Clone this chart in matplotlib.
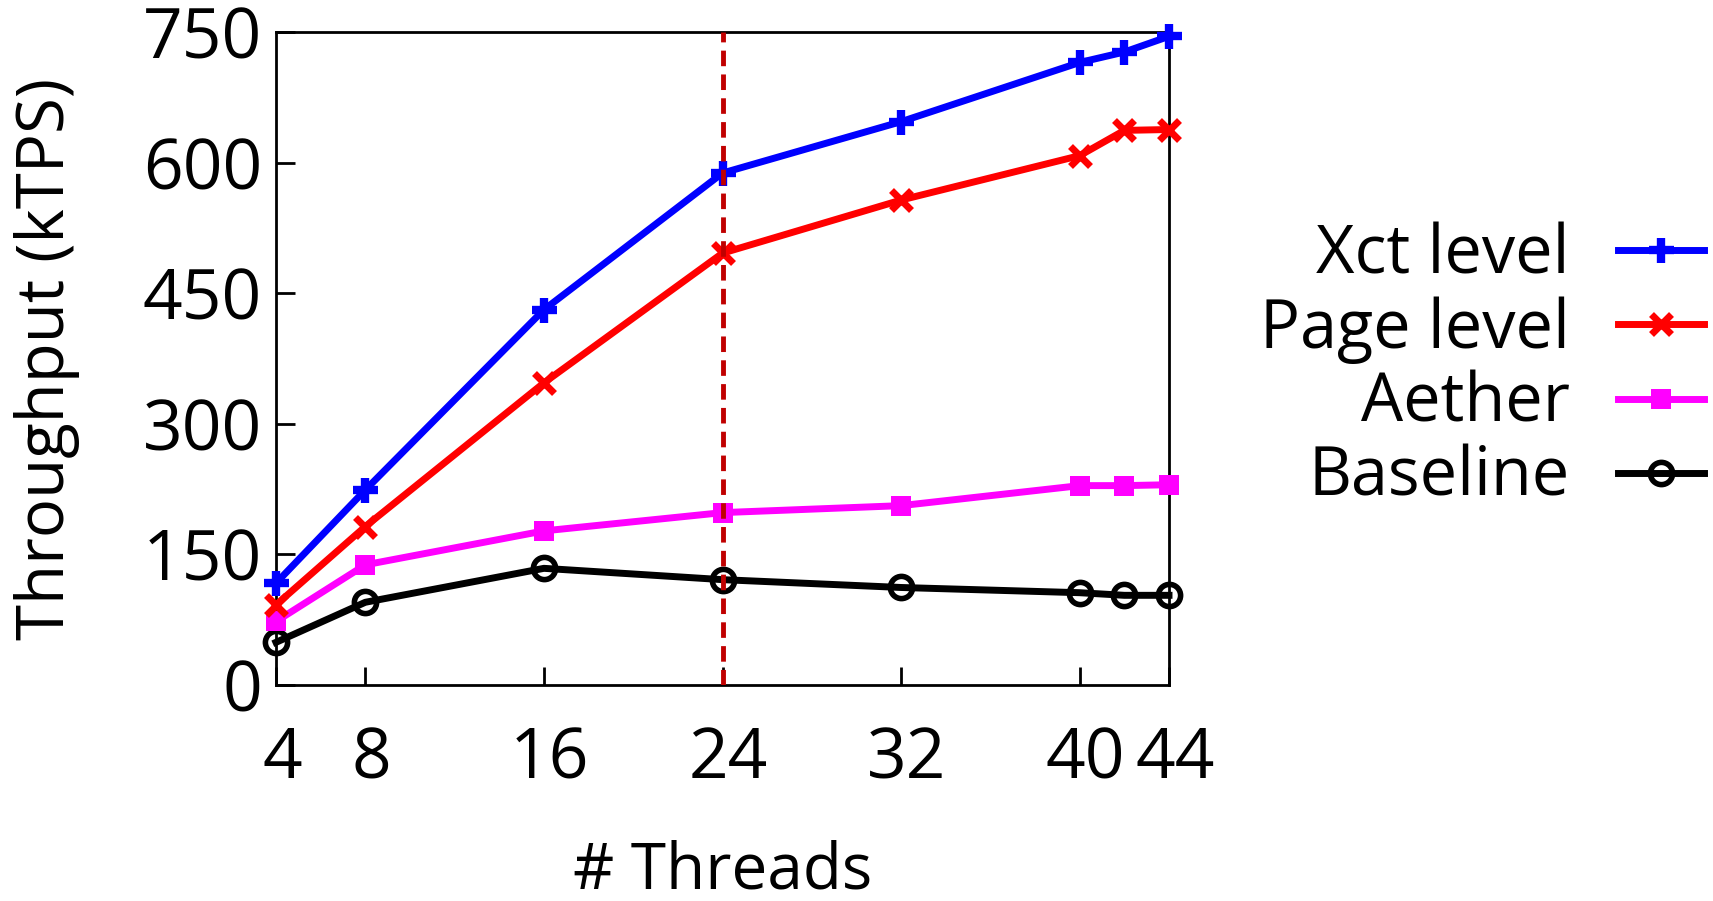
import matplotlib
matplotlib.use("Agg")
import matplotlib.pyplot as plt
import matplotlib.transforms as mtransforms

threads = [4, 8, 16, 24, 32, 40, 42, 44]
xct_level = [117, 224, 431, 588, 647, 715, 727, 745]
page_level = [92, 182, 347, 496, 557, 608, 637, 638]
aether = [73, 138, 177, 198, 206, 229, 229, 230]
baseline = [49, 95, 134, 121, 112, 106, 103, 103]
xticks = [4, 8, 16, 24, 32, 40, 44]
yticks = [0, 150, 300, 450, 600, 750]
marker_x = 24

plt.rcParams['font.family'] = ['Open Sans', 'DejaVu Sans']

fig = plt.figure(figsize=(17.13, 9.01), dpi=100)
ax = fig.add_axes([276/1713, 1-685/901, (1169-276)/1713, (685-32)/901])

lw = 5
ax.plot(threads, xct_level, color='#0000FF', lw=lw, marker='+', ms=18, mew=6,
        label='Xct level', clip_on=False, zorder=5)
ax.plot(threads, page_level, color='#FF0000', lw=lw, marker='x', ms=15, mew=5,
        label='Page level', clip_on=False, zorder=4)
ax.plot(threads, aether, color='#FF00FF', lw=lw, marker='s', ms=14, mew=0,
        label='Aether', clip_on=False, zorder=3)
ax.plot(threads, baseline, color='black', lw=lw, marker='o', ms=16, mew=4,
        mfc='none', label='Baseline', clip_on=False, zorder=2)

ax.axvline(marker_x, color='#C00000', lw=3.5, dashes=(3.2, 1.7), zorder=10)

ax.set_xlim(4, 44)
ax.set_ylim(0, 750)
ax.set_xticks(xticks)
ax.set_yticks(yticks)
ax.tick_params(axis='both', direction='in', width=2, labelsize=50)
ax.tick_params(axis='y', length=14, pad=10)
ax.tick_params(axis='x', length=13, pad=29)
for sp in ax.spines.values():
    sp.set_linewidth(2)

off = mtransforms.ScaledTranslation(6/100, 0, fig.dpi_scale_trans)
for lab in ax.get_xticklabels():
    lab.set_transform(lab.get_transform() + off)

ax.set_xlabel('# Threads', fontsize=46)
ax.set_ylabel('Throughput (kTPS)', fontsize=47)
ax.xaxis.set_label_coords(0.5, -0.236)
ax.yaxis.set_label_coords(-0.219, 0.5)

leg = ax.legend(loc='center right', bbox_to_anchor=(1704/1713, 1-367/901),
                bbox_transform=fig.transFigure, frameon=False, markerfirst=False,
                fontsize=48, handlelength=1.29, handletextpad=0.72,
                labelspacing=0.1, borderpad=0, borderaxespad=0)

fig.savefig('out.png', dpi=100)
